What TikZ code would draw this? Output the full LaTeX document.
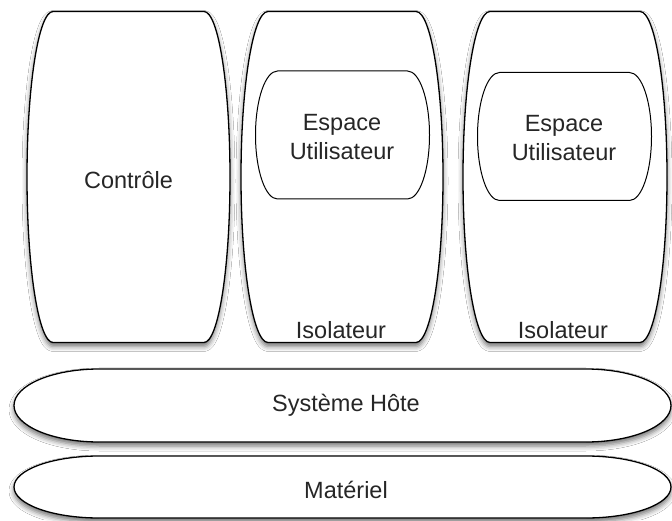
\documentclass[tikz,border=0pt]{standalone}
\usepackage{fontspec}
\setmainfont{Liberation Sans}
\usetikzlibrary{shadows.blur}
\newcommand\barrelpath[5]{%
  (#1-#3,#2+#5) -- (#1+#3,#2+#5)
  arc[start angle=90,end angle=-90,x radius=#4,y radius=#5]
  -- (#1-#3,#2-#5)
  arc[start angle=270,end angle=90,x radius=#4,y radius=#5] -- cycle}
\tikzset{
  outer/.style={draw=black,line width=1.3pt,fill=white,
    blur shadow={shadow xshift=0pt,shadow yshift=-4pt,shadow blur radius=5pt,shadow opacity=55}},
  inner/.style={draw=black,line width=1pt,fill=white},
  lbl/.style={font=\fontsize{23.5}{29}\selectfont,text=black!85,align=center,inner sep=0pt}
}
\begin{document}
\begin{tikzpicture}[x=1pt,y=1pt]
\useasboundingbox (0,0) rectangle (672,520);
\fill[white] (0,0) rectangle (672,520);
% columns
\path[outer] \barrelpath{128.5}{343}{75.5}{26}{165.5};
\path[outer] \barrelpath{342}{343}{74}{27}{165.5};
\path[outer] \barrelpath{565}{343}{75}{27}{165.5};
% layers
\path[outer] \barrelpath{342.5}{114.5}{243.5}{85}{36.5};
\path[outer] \barrelpath{342.5}{33}{243.5}{85}{31};
% inner spaces
\path[inner] \barrelpath{342.5}{385}{65}{22}{64};
\path[inner] \barrelpath{564.5}{383.5}{65}{22}{64};
% labels
\node[lbl] (ctrl) at (128.5,340) {Contrôle};
\node[lbl] (esp1) at (342,383) {Espace\\Utilisateur};
\node[lbl] (esp2) at (564,382) {Espace\\Utilisateur};
\node[lbl] (iso1) at (341,190) {Isolateur};
\node[lbl] (iso2) at (563,190) {Isolateur};
\node[lbl] (hote) at (346,115) {Système Hôte};
\node[lbl] (mat) at (346,30) {Matériel};
\end{tikzpicture}
\end{document}
